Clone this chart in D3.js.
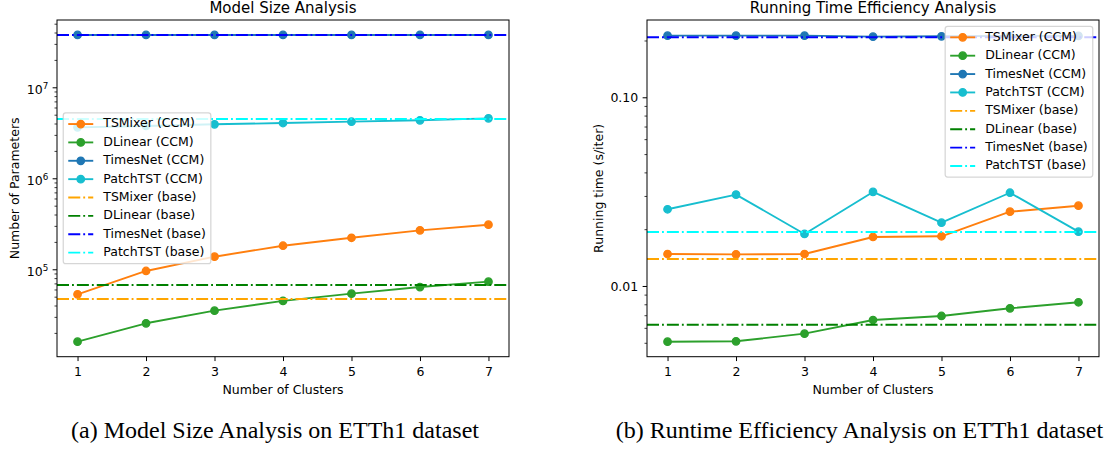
<!DOCTYPE html>
<html><head><meta charset="utf-8">
<script src="https://cdn.jsdelivr.net/npm/d3@7"></script>
<style>
body{margin:0;background:#fff}
svg{display:block}
text{font-family:"DejaVu Sans",sans-serif;fill:#000}
</style>
</head><body>
<svg id="fig" width="1110" height="450"></svg>
<script>
// ---------- data ----------
const clusters = [1, 2, 3, 4, 5, 6, 7];
const models = ["TSMixer", "DLinear", "TimesNet", "PatchTST"];

// (a) Number of parameters
const paramsTSMixerCCM  = [5.31e4, 9.58e4, 1.375e5, 1.815e5, 2.22e5, 2.68e5, 3.09e5];
const paramsDLinearCCM  = [1.60e4, 2.55e4, 3.51e4, 4.49e4, 5.40e4, 6.38e4, 7.31e4];
const paramsTimesNetCCM = [3.76e7, 3.76e7, 3.76e7, 3.76e7, 3.76e7, 3.76e7, 3.76e7];
const paramsPatchTSTCCM = [3.63e6, 3.76e6, 3.92e6, 4.05e6, 4.19e6, 4.34e6, 4.56e6];
const paramsBase = [4.72e4, 6.71e4, 3.76e7, 4.48e6]; // TSMixer, DLinear, TimesNet, PatchTST

// (b) Running time (s/iter)
const timeTSMixerCCM  = [0.01477, 0.01471, 0.01477, 0.01818, 0.01834, 0.02475, 0.02663];
const timeDLinearCCM  = [0.005067, 0.005092, 0.005587, 0.006602, 0.006934, 0.007617, 0.008198];
const timeTimesNetCCM = [0.2121, 0.2121, 0.2121, 0.2095, 0.2105, 0.2115, 0.2115];
const timePatchTSTCCM = [0.0255, 0.0305, 0.01887, 0.0315, 0.02165, 0.0312, 0.0194];
const timeBase = [0.0139, 0.006234, 0.208, 0.01932];

const paramMajorTicks = [1e5, 1e6, 1e7];
const timeMajorTicks = [0.01, 0.1];
const timeTickLabels = ["0.01", "0.10"];

const titles = ["Model Size Analysis", "Running Time Efficiency Analysis"];
const yLabels = ["Number of Parameters", "Running time (s/iter)"];
const xLabel = "Number of Clusters";
const captions = ["(a) Model Size Analysis on ETTh1 dataset", "(b) Runtime Efficiency Analysis on ETTh1 dataset"];

// ---------- style ----------
const ccmColors = ["#ff7f0e", "#2ca02c", "#1f77b4", "#17becf"];
const baseColors = ["#ffa500", "#008000", "#0000ff", "#00ffff"];
const K = 1.25;               // px per pt
const FS = 10 * K;            // base font size
const LW = 1.5 * K;
const DASHDOT = [6.4*1.5*K, 1.6*1.5*K, 1*1.5*K, 1.6*1.5*K].join(",");
const MR = 3 * K;             // marker radius
const TICK = 3.5 * K, MINOR = 2 * K, PAD = 3.5 * K;

const svg = d3.select("#fig");
svg.append("rect").attr("width", 1110).attr("height", 450).attr("fill", "#fff");

function minorTicks(domain) {
  const out = [];
  const lo = Math.floor(Math.log10(domain[0])), hi = Math.ceil(Math.log10(domain[1]));
  for (let e = lo; e <= hi; e++) for (let m = 2; m <= 9; m++) {
    const v = m * Math.pow(10, e);
    if (v >= domain[0] && v <= domain[1]) out.push(v);
  }
  return out;
}

function panel(cfg) {
  const {left, right, top, bottom} = cfg;
  const g = svg.append("g");
  const x = d3.scaleLinear().domain([0.7, 7.3]).range([left, right]);
  const y = d3.scaleLog().domain(cfg.yDomain).range([bottom, top]);
  const clipId = "clip" + cfg.id;
  svg.append("clipPath").attr("id", clipId).append("rect")
    .attr("x", left).attr("y", top).attr("width", right - left).attr("height", bottom - top);

  const plot = g.append("g").attr("clip-path", `url(#${clipId})`);
  const line = d3.line().x((d, i) => x(clusters[i])).y(d => y(d));
  cfg.ccm.forEach((arr, k) => {
    plot.append("path").attr("d", line(arr)).attr("fill", "none")
      .attr("stroke", ccmColors[k]).attr("stroke-width", LW).attr("stroke-linejoin", "round");
    plot.selectAll(null).data(arr).enter().append("circle")
      .attr("cx", (d, i) => x(clusters[i])).attr("cy", d => y(d)).attr("r", MR)
      .attr("fill", ccmColors[k]).attr("stroke", ccmColors[k]).attr("stroke-width", 1 * K);
  });
  cfg.base.forEach((v, k) => {
    plot.append("line").attr("x1", left).attr("x2", right).attr("y1", y(v)).attr("y2", y(v))
      .attr("stroke", baseColors[k]).attr("stroke-width", LW).attr("stroke-dasharray", DASHDOT);
  });

  // axes
  const xa = g.append("g").attr("transform", `translate(0,${bottom})`)
    .call(d3.axisBottom(x).tickValues(clusters).tickSize(TICK).tickFormat(d3.format("d")));
  xa.select(".domain").remove();
  xa.selectAll("line").attr("stroke", "#000").attr("stroke-width", 0.8 * K);
  xa.selectAll("text").attr("y", 19.3).attr("dy", null)
    .style("font-size", FS + "px").attr("fill", "#000");

  const ymin = g.append("g").attr("transform", `translate(${left},0)`)
    .call(d3.axisLeft(y).tickValues(minorTicks(cfg.yDomain)).tickSize(MINOR).tickFormat(""));
  ymin.select(".domain").remove();
  ymin.selectAll("line").attr("stroke", "#000").attr("stroke-width", 0.6 * K);

  const ya = g.append("g").attr("transform", `translate(${left},0)`)
    .call(d3.axisLeft(y).tickValues(cfg.major).tickSize(TICK).tickPadding(PAD));
  ya.select(".domain").remove();
  ya.selectAll("line").attr("stroke", "#000").attr("stroke-width", 0.8 * K);
  ya.selectAll("text").attr("dy", null).style("font-size", FS + "px").attr("fill", "#000")
    .each(function(d, i) {
      const t = d3.select(this);
      t.text(null);
      if (cfg.sci) {
        t.attr("y", 6);
        t.append("tspan").text("10");
        t.append("tspan").text(String(Math.round(Math.log10(d))))
          .attr("dy", -5).style("font-size", (FS * 0.7) + "px");
      } else {
        t.attr("y", 4.6);
        t.text(cfg.tickLabels[i]);
      }
    });

  // spines
  g.append("rect").attr("x", left).attr("y", top).attr("width", right - left).attr("height", bottom - top)
    .attr("fill", "none").attr("stroke", "#000").attr("stroke-width", 0.8 * K);

  // title & labels
  const cx = (left + right) / 2, cy = (top + bottom) / 2;
  g.append("text").attr("x", cx).attr("y", top - 6 * K).attr("text-anchor", "middle")
    .style("font-size", (12 * K) + "px").text(cfg.title);
  g.append("text").attr("x", cx).attr("y", 393.8).attr("text-anchor", "middle")
    .style("font-size", FS + "px").text(xLabel);
  g.append("text").attr("transform", `translate(${cfg.ylabelX},${cy}) rotate(-90)`)
    .attr("text-anchor", "middle").style("font-size", FS + "px").text(cfg.ylabel);

  // legend
  const entries = [];
  models.forEach((m, k) => entries.push({label: m + " (CCM)", color: ccmColors[k], base: false}));
  models.forEach((m, k) => entries.push({label: m + " (base)", color: baseColors[k], base: true}));
  const lg = g.append("g");
  const box = lg.append("rect");
  const rowH = 0.97 * FS, spacing = 0.5 * FS, bpad = 0.4 * FS, hlen = 2 * FS, hpad = 0.8 * FS;
  const height = 2 * bpad + entries.length * rowH + (entries.length - 1) * spacing;
  const texts = entries.map(e => lg.append("text").style("font-size", FS + "px").text(e.label));
  const maxW = d3.max(texts, t => t.node().getComputedTextLength());
  const width = 2 * bpad + hlen + hpad + maxW;
  const bap = 0.5 * FS;
  let lx, ly;
  if (cfg.legend === "centerleft") { lx = left + bap; ly = cy - height / 2; }
  else { lx = right - bap - width; ly = top + bap; }
  box.attr("x", lx).attr("y", ly).attr("width", width).attr("height", height)
    .attr("rx", 0.2 * FS).attr("fill", "#fff").attr("fill-opacity", 0.8)
    .attr("stroke", "#cccccc").attr("stroke-opacity", 0.8).attr("stroke-width", 1 * K);
  entries.forEach((e, i) => {
    const rc = ly + bpad + rowH / 2 + i * (rowH + spacing);
    const hx = lx + bpad;
    lg.append("line").attr("x1", hx).attr("x2", hx + hlen).attr("y1", rc).attr("y2", rc)
      .attr("stroke", e.color).attr("stroke-width", LW)
      .attr("stroke-dasharray", e.base ? DASHDOT : null);
    if (!e.base) lg.append("circle").attr("cx", hx + hlen / 2).attr("cy", rc).attr("r", MR)
      .attr("fill", e.color).attr("stroke", e.color).attr("stroke-width", 1 * K);
    texts[i].attr("x", hx + hlen + hpad).attr("y", rc + 0.275 * FS);
    texts[i].raise();
  });
}

panel({
  id: "a", left: 57, right: 509, top: 20, bottom: 356.7,
  yDomain: [1.095e4, 5.49e7], major: paramMajorTicks, sci: true,
  ccm: [paramsTSMixerCCM, paramsDLinearCCM, paramsTimesNetCCM, paramsPatchTSTCCM],
  base: paramsBase, title: titles[0], ylabel: yLabels[0], ylabelX: 18.7, legend: "centerleft"
});
panel({
  id: "b", left: 647, right: 1099, top: 20, bottom: 356.7,
  yDomain: [0.004219, 0.2568], major: timeMajorTicks, tickLabels: timeTickLabels, sci: false,
  ccm: [timeTSMixerCCM, timeDLinearCCM, timeTimesNetCCM, timePatchTSTCCM],
  base: timeBase, title: titles[1], ylabel: yLabels[1], ylabelX: 602.5, legend: "upperright"
});

svg.append("text").attr("x", 275).attr("y", 437.5).attr("text-anchor", "middle")
  .style("font-family", "'Liberation Serif', 'Times New Roman', serif").style("font-size", "24px")
  .text(captions[0]);
svg.append("text").attr("x", 859.4).attr("y", 437.5).attr("text-anchor", "middle")
  .style("font-family", "'Liberation Serif', 'Times New Roman', serif").style("font-size", "24px")
  .text(captions[1]);
</script>
</body></html>
